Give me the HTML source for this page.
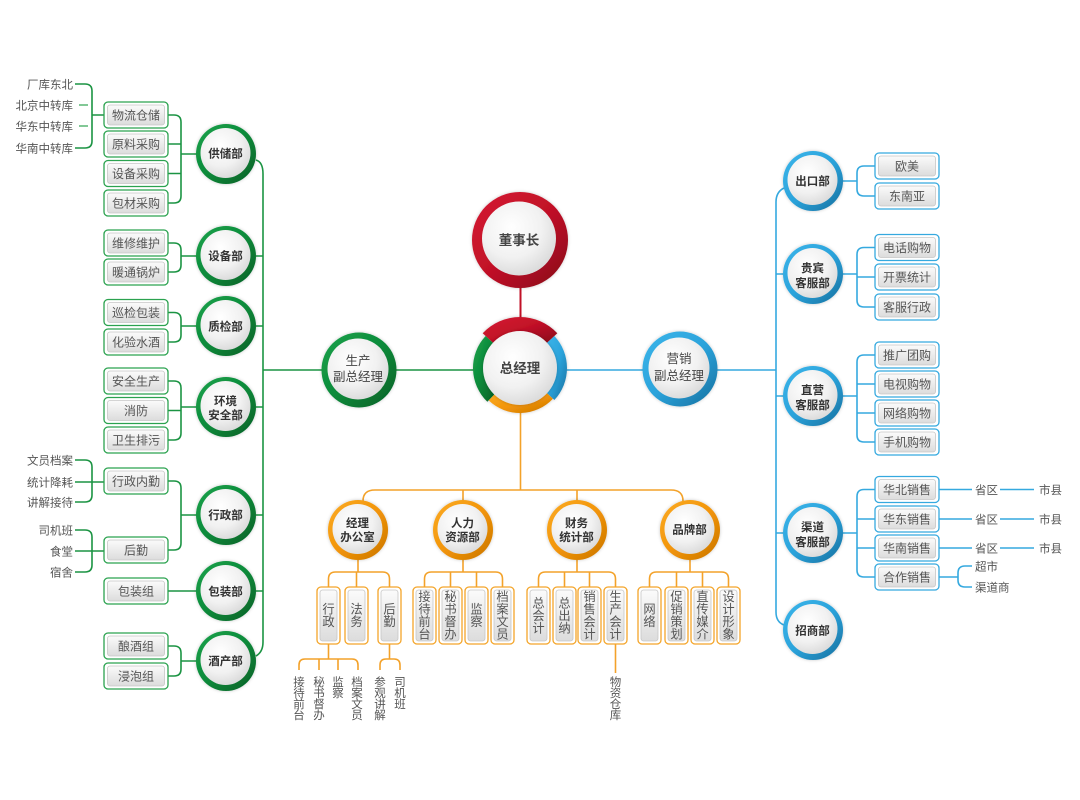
<!DOCTYPE html>
<html><head><meta charset="utf-8">
<style>
html,body{margin:0;padding:0;background:#fff;}
svg{display:block;}
text{font-family:"Liberation Sans","Noto Sans CJK SC",sans-serif;}
.bo{fill:#fff;stroke-width:1.3;}
.g .bo{stroke:#2ba24f;}
.b .bo{stroke:#35a9df;}
.o .bo{stroke:#f4a52a;}
.bi{fill:url(#bg);stroke:#c6c6c6;stroke-width:.8;}
.bt{font-size:12px;fill:#555;text-anchor:middle;}
.lb{font-size:11.5px;fill:#555;}
.dc{font-size:11.5px;font-weight:bold;fill:#333;text-anchor:middle;}
.mc{font-size:12.5px;fill:#444;text-anchor:middle;}
.bc{font-size:13.5px;font-weight:bold;fill:#444;text-anchor:middle;}
.vt{font-size:12.3px;fill:#555;text-anchor:middle;}
.ft{font-size:11.5px;fill:#555;text-anchor:middle;}
.lg{fill:none;stroke:#1b9443;stroke-width:1.6;}
.lbl{fill:none;stroke:#35a9df;stroke-width:1.6;}
.lo{fill:none;stroke:#f3a22a;stroke-width:1.6;}
</style></head>
<body>
<svg width="1080" height="800" viewBox="0 0 1080 800" xmlns="http://www.w3.org/2000/svg">
<defs>
<linearGradient id="bg" x1="0" y1="0" x2="0" y2="1"><stop offset="0" stop-color="#fbfbfb"/><stop offset="1" stop-color="#dcdcdc"/></linearGradient>
<radialGradient id="wg" cx=".4" cy=".35" r=".75"><stop offset="0" stop-color="#ffffff"/><stop offset=".55" stop-color="#f1f1f1"/><stop offset="1" stop-color="#d4d4d4"/></radialGradient>
<linearGradient id="gG" x1="0" y1="0" x2="1" y2="1"><stop offset="0" stop-color="#1aa34c"/><stop offset=".5" stop-color="#0c8a3a"/><stop offset="1" stop-color="#045f26"/></linearGradient>
<linearGradient id="gB" x1="0" y1="0" x2="1" y2="1"><stop offset="0" stop-color="#3cb5ea"/><stop offset=".5" stop-color="#2ba3db"/><stop offset="1" stop-color="#176f9e"/></linearGradient>
<linearGradient id="gO" x1="0" y1="0" x2="1" y2="1"><stop offset="0" stop-color="#fbab25"/><stop offset=".5" stop-color="#f29509"/><stop offset="1" stop-color="#c97400"/></linearGradient>
<linearGradient id="gR" x1="0" y1="0" x2="1" y2="1"><stop offset="0" stop-color="#d51a33"/><stop offset=".5" stop-color="#c11127"/><stop offset="1" stop-color="#86091a"/></linearGradient>
<filter id="sh" x="-30%" y="-30%" width="160%" height="160%"><feDropShadow dx="0" dy="0" stdDeviation="1.6" flood-color="#000" flood-opacity=".22"/></filter>
</defs>

<!-- ============ CONNECTORS ============ -->
<line x1="520.5" y1="286" x2="520.5" y2="320" stroke="#c11127" stroke-width="2"/>
<path class="lg" d="M256,160 Q263,162 263,174 L263,642 Q263,652 256,656"/>
<path class="lg" d="M256,256 H263 M256,326 H263 M256,407 H263 M256,515 H263 M256,591 H263 M263,370 H323 M396,370 H475"/>
<path class="lg" d="M168,115 L174,115 Q181,115 181,122 L181,196 Q181,203 174,203 L168,203 M168,144 H181 M168,173.5 H181 M181,154 H197"/>
<path class="lg" d="M168,243 L174,243 Q181,243 181,250 L181,265 Q181,272 174,272 L168,272 M181,256 H197"/>
<path class="lg" d="M168,312.5 L174,312.5 Q181,312.5 181,319.5 L181,335 Q181,342 174,342 L168,342 M181,326 H197"/>
<path class="lg" d="M168,381 L174,381 Q181,381 181,388 L181,433 Q181,440 174,440 L168,440 M168,410.5 H181 M181,407 H197"/>
<path class="lg" d="M168,481 L174,481 Q181,481 181,488 L181,543 Q181,550 174,550 L168,550 M181,515 H197"/>
<path class="lg" d="M168,591 H197"/>
<path class="lg" d="M168,646 L174,646 Q181,646 181,653 L181,669 Q181,676 174,676 L168,676 M181,661 H197"/>
<path class="lg" d="M75,84 L85,84 Q92,84 92,91 L92,141 Q92,148 85,148 L75,148 M92,115 H104"/>
<path class="lg" d="M79,105 H88 M79,126 H88" style="stroke:#58b673"/>
<path class="lg" d="M75,460 L85,460 Q92,460 92,467 L92,495 Q92,502 85,502 L75,502 M75,482 H104"/>
<path class="lg" d="M75,530 L85,530 Q92,530 92,537 L92,565 Q92,572 85,572 L75,572 M75,551 H104"/>

<path class="lbl" d="M784,188 Q776,192 776,202 L776,612 Q776,622 784,625"/>
<path class="lbl" d="M776,274 H785 M776,396 H785 M776,533 H785 M717,370 H776 M566,370 H644"/>
<path class="lbl" d="M875,166 L864,166 Q857,166 857,173 L857,189 Q857,196 864,196 L875,196 M842,181 H857"/>
<path class="lbl" d="M875,247.5 L864,247.5 Q857,247.5 857,254.5 L857,300 Q857,307 864,307 L875,307 M857,277 H875 M842,274 H857"/>
<path class="lbl" d="M875,355 L864,355 Q857,355 857,362 L857,435 Q857,442 864,442 L875,442 M857,384 H875 M857,413 H875 M842,396 H857"/>
<path class="lbl" d="M875,489.5 L864,489.5 Q857,489.5 857,496.5 L857,570 Q857,577 864,577 L875,577 M857,519 H875 M857,548 H875 M842,533 H857"/>
<path class="lbl" d="M939,489.5 H972 M1000,489.5 H1034 M939,519 H972 M1000,519 H1034 M939,548 H972 M1000,548 H1034"/>
<path class="lbl" d="M939,577 L958,577 M972,566 L965,566 Q958,566 958,573 L958,580 Q958,587 965,587 L972,587"/>

<path class="lo" d="M520.5,412 V490 M363,501 Q363,490 375,490 L671,490 Q683,490 683,501 M463,490 V501 M577,490 V501"/>
<path class="lo" d="M358,560 V572 M328.5,587 L328.5,579 Q328.5,572 335.5,572 L382.5,572 Q389.5,572 389.5,579 L389.5,587 M356.5,572 V587"/>
<path class="lo" d="M463,560 V572 M424.5,587 L424.5,579 Q424.5,572 431.5,572 L495.5,572 Q502.5,572 502.5,579 L502.5,587 M450.5,572 V587 M476.5,572 V587"/>
<path class="lo" d="M577,560 V572 M538.5,587 L538.5,579 Q538.5,572 545.5,572 L608.5,572 Q615.5,572 615.5,579 L615.5,587 M564.5,572 V587 M589.5,572 V587"/>
<path class="lo" d="M690,560 V572 M649.5,587 L649.5,579 Q649.5,572 656.5,572 L721.5,572 Q728.5,572 728.5,579 L728.5,587 M676.5,572 V587 M702.5,572 V587"/>
<path class="lo" d="M328.5,644 V659 M299,670 L299,665 Q299,659 305,659 L352,659 Q358,659 358,665 L358,670 M319,659 V670 M338,659 V670"/>
<path class="lo" d="M389.5,644 V659 M380,670 L380,665 Q380,659 386,659 L394,659 Q400,659 400,665 L400,670"/>
<path class="lo" d="M615.5,644 V673"/>

<!-- ============ BIG CIRCLES ============ -->
<circle cx="520" cy="240" r="48" fill="url(#gR)" filter="url(#sh)"/>
<circle cx="519" cy="238.5" r="37" fill="url(#wg)"/>
<text class="bc" x="519" y="245">董事长</text>

<g filter="url(#sh)">
<path fill="url(#gR)" d="M557.3,333.22 A51,51 0 0 0 482.7,333.22 L493.67,343.45 A36,36 0 0 1 546.33,343.45 Z"/>
<path fill="url(#gG)" d="M485.62,335.95 A47,47 0 0 0 487.35,401.81 L494.99,393.89 A36,36 0 0 1 493.67,343.45 Z"/>
<path fill="url(#gO)" d="M488.7,400.4 A45,45 0 0 0 552.9,398.7 L546.33,392.55 A36,36 0 0 1 494.99,393.89 Z"/>
<path fill="url(#gB)" d="M554.37,400.05 A47,47 0 0 0 554.37,335.95 L546.33,343.45 A36,36 0 0 1 546.33,392.55 Z"/>
</g>
<circle cx="520" cy="368" r="37" fill="url(#wg)" filter="url(#sh)"/>
<text class="bc" x="520" y="373">总经理</text>

<circle cx="359" cy="370" r="37.5" fill="url(#gG)" filter="url(#sh)"/>
<circle cx="358" cy="369" r="30.5" fill="url(#wg)"/>
<text class="mc" x="358" y="365">生产</text>
<text class="mc" x="358" y="381">副总经理</text>

<circle cx="680" cy="369" r="37.5" fill="url(#gB)" filter="url(#sh)"/>
<circle cx="679" cy="368" r="30.5" fill="url(#wg)"/>
<text class="mc" x="679" y="363">营销</text>
<text class="mc" x="679" y="380">副总经理</text>

<!-- ============ GREEN DEPT CIRCLES ============ -->
<g>
<circle cx="226" cy="154" r="30" fill="url(#gG)" filter="url(#sh)"/><circle cx="225.5" cy="153" r="25" fill="url(#wg)"/>
<text class="dc" x="225.5" y="157.5">供储部</text>
<circle cx="226" cy="256" r="30" fill="url(#gG)" filter="url(#sh)"/><circle cx="225.5" cy="255" r="25" fill="url(#wg)"/>
<text class="dc" x="225.5" y="260">设备部</text>
<circle cx="226" cy="326" r="30" fill="url(#gG)" filter="url(#sh)"/><circle cx="225.5" cy="325" r="25" fill="url(#wg)"/>
<text class="dc" x="225.5" y="330.5">质检部</text>
<circle cx="226" cy="407" r="30" fill="url(#gG)" filter="url(#sh)"/><circle cx="225.5" cy="406" r="25" fill="url(#wg)"/>
<text class="dc" x="225.5" y="405">环境</text><text class="dc" x="225.5" y="419">安全部</text>
<circle cx="226" cy="515" r="30" fill="url(#gG)" filter="url(#sh)"/><circle cx="225.5" cy="514" r="25" fill="url(#wg)"/>
<text class="dc" x="225.5" y="519">行政部</text>
<circle cx="226" cy="591" r="30" fill="url(#gG)" filter="url(#sh)"/><circle cx="225.5" cy="590" r="25" fill="url(#wg)"/>
<text class="dc" x="225.5" y="595.5">包装部</text>
<circle cx="226" cy="661" r="30" fill="url(#gG)" filter="url(#sh)"/><circle cx="225.5" cy="660" r="25" fill="url(#wg)"/>
<text class="dc" x="225.5" y="665">酒产部</text>
</g>

<!-- ============ BLUE DEPT CIRCLES ============ -->
<g>
<circle cx="813" cy="181" r="30" fill="url(#gB)" filter="url(#sh)"/><circle cx="812.5" cy="180" r="25" fill="url(#wg)"/>
<text class="dc" x="812.5" y="185">出口部</text>
<circle cx="813" cy="274" r="30" fill="url(#gB)" filter="url(#sh)"/><circle cx="812.5" cy="273" r="25" fill="url(#wg)"/>
<text class="dc" x="812.5" y="272">贵宾</text><text class="dc" x="812.5" y="287">客服部</text>
<circle cx="813" cy="396" r="30" fill="url(#gB)" filter="url(#sh)"/><circle cx="812.5" cy="395" r="25" fill="url(#wg)"/>
<text class="dc" x="812.5" y="394">直营</text><text class="dc" x="812.5" y="409">客服部</text>
<circle cx="813" cy="533" r="30" fill="url(#gB)" filter="url(#sh)"/><circle cx="812.5" cy="532" r="25" fill="url(#wg)"/>
<text class="dc" x="812.5" y="531">渠道</text><text class="dc" x="812.5" y="546">客服部</text>
<circle cx="813" cy="630" r="30" fill="url(#gB)" filter="url(#sh)"/><circle cx="812.5" cy="629" r="25" fill="url(#wg)"/>
<text class="dc" x="812.5" y="634.5">招商部</text>
</g>

<!-- ============ ORANGE DEPT CIRCLES ============ -->
<g>
<circle cx="358" cy="530" r="30" fill="url(#gO)" filter="url(#sh)"/><circle cx="357.5" cy="529" r="25" fill="url(#wg)"/>
<text class="dc" x="357.5" y="527">经理</text><text class="dc" x="357.5" y="541">办公室</text>
<circle cx="463" cy="530" r="30" fill="url(#gO)" filter="url(#sh)"/><circle cx="462.5" cy="529" r="25" fill="url(#wg)"/>
<text class="dc" x="462.5" y="527">人力</text><text class="dc" x="462.5" y="541">资源部</text>
<circle cx="577" cy="530" r="30" fill="url(#gO)" filter="url(#sh)"/><circle cx="576.5" cy="529" r="25" fill="url(#wg)"/>
<text class="dc" x="576.5" y="527">财务</text><text class="dc" x="576.5" y="541">统计部</text>
<circle cx="690" cy="530" r="30" fill="url(#gO)" filter="url(#sh)"/><circle cx="689.5" cy="529" r="25" fill="url(#wg)"/>
<text class="dc" x="689.5" y="533.5">品牌部</text>
</g>

<!-- ============ GREEN BOXES ============ -->
<g class="g">
<rect class="bo" x="104" y="102" width="64" height="26" rx="4"/><rect class="bi" x="107.5" y="105" width="57" height="20" rx="2.5"/><text class="bt" x="136" y="119.5">物流仓储</text>
<rect class="bo" x="104" y="131" width="64" height="26" rx="4"/><rect class="bi" x="107.5" y="134" width="57" height="20" rx="2.5"/><text class="bt" x="136" y="148.5">原料采购</text>
<rect class="bo" x="104" y="160.5" width="64" height="26" rx="4"/><rect class="bi" x="107.5" y="163.5" width="57" height="20" rx="2.5"/><text class="bt" x="136" y="178">设备采购</text>
<rect class="bo" x="104" y="190" width="64" height="26" rx="4"/><rect class="bi" x="107.5" y="193" width="57" height="20" rx="2.5"/><text class="bt" x="136" y="207.5">包材采购</text>

<rect class="bo" x="104" y="230" width="64" height="26" rx="4"/><rect class="bi" x="107.5" y="233" width="57" height="20" rx="2.5"/><text class="bt" x="136" y="247.5">维修维护</text>
<rect class="bo" x="104" y="259" width="64" height="26" rx="4"/><rect class="bi" x="107.5" y="262" width="57" height="20" rx="2.5"/><text class="bt" x="136" y="276.5">暖通锅炉</text>

<rect class="bo" x="104" y="299.5" width="64" height="26" rx="4"/><rect class="bi" x="107.5" y="302.5" width="57" height="20" rx="2.5"/><text class="bt" x="136" y="317">巡检包装</text>
<rect class="bo" x="104" y="329" width="64" height="26" rx="4"/><rect class="bi" x="107.5" y="332" width="57" height="20" rx="2.5"/><text class="bt" x="136" y="346.5">化验水酒</text>

<rect class="bo" x="104" y="368" width="64" height="26" rx="4"/><rect class="bi" x="107.5" y="371" width="57" height="20" rx="2.5"/><text class="bt" x="136" y="385.5">安全生产</text>
<rect class="bo" x="104" y="397.5" width="64" height="26" rx="4"/><rect class="bi" x="107.5" y="400.5" width="57" height="20" rx="2.5"/><text class="bt" x="136" y="415">消防</text>
<rect class="bo" x="104" y="427" width="64" height="26" rx="4"/><rect class="bi" x="107.5" y="430" width="57" height="20" rx="2.5"/><text class="bt" x="136" y="444.5">卫生排污</text>

<rect class="bo" x="104" y="468" width="64" height="26" rx="4"/><rect class="bi" x="107.5" y="471" width="57" height="20" rx="2.5"/><text class="bt" x="136" y="485.5">行政内勤</text>
<rect class="bo" x="104" y="537" width="64" height="26" rx="4"/><rect class="bi" x="107.5" y="540" width="57" height="20" rx="2.5"/><text class="bt" x="136" y="554.5">后勤</text>

<rect class="bo" x="104" y="578" width="64" height="26" rx="4"/><rect class="bi" x="107.5" y="581" width="57" height="20" rx="2.5"/><text class="bt" x="136" y="595.5">包装组</text>

<rect class="bo" x="104" y="633" width="64" height="26" rx="4"/><rect class="bi" x="107.5" y="636" width="57" height="20" rx="2.5"/><text class="bt" x="136" y="650.5">酿酒组</text>
<rect class="bo" x="104" y="663" width="64" height="26" rx="4"/><rect class="bi" x="107.5" y="666" width="57" height="20" rx="2.5"/><text class="bt" x="136" y="680.5">浸泡组</text>
</g>

<g class="lb" text-anchor="end">
<text x="73" y="88.5">厂库东北</text>
<text x="73" y="109.5">北京中转库</text>
<text x="73" y="130.5">华东中转库</text>
<text x="73" y="152.5">华南中转库</text>
<text x="73" y="464.5">文员档案</text>
<text x="73" y="486.5">统计降耗</text>
<text x="73" y="506.5">讲解接待</text>
<text x="73" y="534.5">司机班</text>
<text x="73" y="555.5">食堂</text>
<text x="73" y="576.5">宿舍</text>
</g>

<!-- ============ BLUE BOXES ============ -->
<g class="b">
<rect class="bo" x="875" y="153" width="64" height="26" rx="4"/><rect class="bi" x="878.5" y="156" width="57" height="20" rx="2.5"/><text class="bt" x="907" y="170.5">欧美</text>
<rect class="bo" x="875" y="183" width="64" height="26" rx="4"/><rect class="bi" x="878.5" y="186" width="57" height="20" rx="2.5"/><text class="bt" x="907" y="200.5">东南亚</text>

<rect class="bo" x="875" y="234.5" width="64" height="26" rx="4"/><rect class="bi" x="878.5" y="237.5" width="57" height="20" rx="2.5"/><text class="bt" x="907" y="252">电话购物</text>
<rect class="bo" x="875" y="264" width="64" height="26" rx="4"/><rect class="bi" x="878.5" y="267" width="57" height="20" rx="2.5"/><text class="bt" x="907" y="281.5">开票统计</text>
<rect class="bo" x="875" y="294" width="64" height="26" rx="4"/><rect class="bi" x="878.5" y="297" width="57" height="20" rx="2.5"/><text class="bt" x="907" y="311.5">客服行政</text>

<rect class="bo" x="875" y="342" width="64" height="26" rx="4"/><rect class="bi" x="878.5" y="345" width="57" height="20" rx="2.5"/><text class="bt" x="907" y="359.5">推广团购</text>
<rect class="bo" x="875" y="371" width="64" height="26" rx="4"/><rect class="bi" x="878.5" y="374" width="57" height="20" rx="2.5"/><text class="bt" x="907" y="388.5">电视购物</text>
<rect class="bo" x="875" y="400" width="64" height="26" rx="4"/><rect class="bi" x="878.5" y="403" width="57" height="20" rx="2.5"/><text class="bt" x="907" y="417.5">网络购物</text>
<rect class="bo" x="875" y="429" width="64" height="26" rx="4"/><rect class="bi" x="878.5" y="432" width="57" height="20" rx="2.5"/><text class="bt" x="907" y="446.5">手机购物</text>

<rect class="bo" x="875" y="476.5" width="64" height="26" rx="4"/><rect class="bi" x="878.5" y="479.5" width="57" height="20" rx="2.5"/><text class="bt" x="907" y="494">华北销售</text>
<rect class="bo" x="875" y="506" width="64" height="26" rx="4"/><rect class="bi" x="878.5" y="509" width="57" height="20" rx="2.5"/><text class="bt" x="907" y="523.5">华东销售</text>
<rect class="bo" x="875" y="535" width="64" height="26" rx="4"/><rect class="bi" x="878.5" y="538" width="57" height="20" rx="2.5"/><text class="bt" x="907" y="552.5">华南销售</text>
<rect class="bo" x="875" y="564" width="64" height="26" rx="4"/><rect class="bi" x="878.5" y="567" width="57" height="20" rx="2.5"/><text class="bt" x="907" y="581.5">合作销售</text>
</g>

<g class="lb">
<text x="975" y="494">省区</text><text x="1039" y="494">市县</text>
<text x="975" y="523.5">省区</text><text x="1039" y="523.5">市县</text>
<text x="975" y="552.5">省区</text><text x="1039" y="552.5">市县</text>
<text x="975" y="570.5">超市</text>
<text x="975" y="591.5">渠道商</text>
</g>

<!-- ============ ORANGE BOXES (vertical) ============ -->
<g class="o">
<rect class="bo" x="317" y="587" width="23" height="57" rx="4"/><rect class="bi" x="320" y="590" width="17" height="51" rx="2.5"/>
<rect class="bo" x="345" y="587" width="23" height="57" rx="4"/><rect class="bi" x="348" y="590" width="17" height="51" rx="2.5"/>
<rect class="bo" x="378" y="587" width="23" height="57" rx="4"/><rect class="bi" x="381" y="590" width="17" height="51" rx="2.5"/>

<rect class="bo" x="413" y="587" width="23" height="57" rx="4"/><rect class="bi" x="416" y="590" width="17" height="51" rx="2.5"/>
<rect class="bo" x="439" y="587" width="23" height="57" rx="4"/><rect class="bi" x="442" y="590" width="17" height="51" rx="2.5"/>
<rect class="bo" x="465" y="587" width="23" height="57" rx="4"/><rect class="bi" x="468" y="590" width="17" height="51" rx="2.5"/>
<rect class="bo" x="491" y="587" width="23" height="57" rx="4"/><rect class="bi" x="494" y="590" width="17" height="51" rx="2.5"/>

<rect class="bo" x="527" y="587" width="23" height="57" rx="4"/><rect class="bi" x="530" y="590" width="17" height="51" rx="2.5"/>
<rect class="bo" x="553" y="587" width="23" height="57" rx="4"/><rect class="bi" x="556" y="590" width="17" height="51" rx="2.5"/>
<rect class="bo" x="578" y="587" width="23" height="57" rx="4"/><rect class="bi" x="581" y="590" width="17" height="51" rx="2.5"/>
<rect class="bo" x="604" y="587" width="23" height="57" rx="4"/><rect class="bi" x="607" y="590" width="17" height="51" rx="2.5"/>

<rect class="bo" x="638" y="587" width="23" height="57" rx="4"/><rect class="bi" x="641" y="590" width="17" height="51" rx="2.5"/>
<rect class="bo" x="665" y="587" width="23" height="57" rx="4"/><rect class="bi" x="668" y="590" width="17" height="51" rx="2.5"/>
<rect class="bo" x="691" y="587" width="23" height="57" rx="4"/><rect class="bi" x="694" y="590" width="17" height="51" rx="2.5"/>
<rect class="bo" x="717" y="587" width="23" height="57" rx="4"/><rect class="bi" x="720" y="590" width="17" height="51" rx="2.5"/>
</g>

<g class="vt">
<text x="328.5" y="613.6">行<tspan x="328.5" dy="12.6">政</tspan></text>
<text x="356.5" y="613.6">法<tspan x="356.5" dy="12.6">务</tspan></text>
<text x="389.5" y="613.6">后<tspan x="389.5" dy="12.6">勤</tspan></text>

<text x="424.5" y="601">接<tspan x="424.5" dy="12.5">待</tspan><tspan x="424.5" dy="12.5">前</tspan><tspan x="424.5" dy="12.5">台</tspan></text>
<text x="450.5" y="601">秘<tspan x="450.5" dy="12.5">书</tspan><tspan x="450.5" dy="12.5">督</tspan><tspan x="450.5" dy="12.5">办</tspan></text>
<text x="476.5" y="613.6">监<tspan x="476.5" dy="12.6">察</tspan></text>
<text x="502.5" y="601">档<tspan x="502.5" dy="12.5">案</tspan><tspan x="502.5" dy="12.5">文</tspan><tspan x="502.5" dy="12.5">员</tspan></text>

<text x="538.5" y="607.4">总<tspan x="538.5" dy="12.5">会</tspan><tspan x="538.5" dy="12.5">计</tspan></text>
<text x="564.5" y="607.4">总<tspan x="564.5" dy="12.5">出</tspan><tspan x="564.5" dy="12.5">纳</tspan></text>
<text x="589.5" y="601">销<tspan x="589.5" dy="12.5">售</tspan><tspan x="589.5" dy="12.5">会</tspan><tspan x="589.5" dy="12.5">计</tspan></text>
<text x="615.5" y="601">生<tspan x="615.5" dy="12.5">产</tspan><tspan x="615.5" dy="12.5">会</tspan><tspan x="615.5" dy="12.5">计</tspan></text>

<text x="649.5" y="613.6">网<tspan x="649.5" dy="12.6">络</tspan></text>
<text x="676.5" y="601">促<tspan x="676.5" dy="12.5">销</tspan><tspan x="676.5" dy="12.5">策</tspan><tspan x="676.5" dy="12.5">划</tspan></text>
<text x="702.5" y="601">直<tspan x="702.5" dy="12.5">传</tspan><tspan x="702.5" dy="12.5">媒</tspan><tspan x="702.5" dy="12.5">介</tspan></text>
<text x="728.5" y="601">设<tspan x="728.5" dy="12.5">计</tspan><tspan x="728.5" dy="12.5">形</tspan><tspan x="728.5" dy="12.5">象</tspan></text>
</g>

<g class="ft">
<text x="299" y="686">接<tspan x="299" dy="11">待</tspan><tspan x="299" dy="11">前</tspan><tspan x="299" dy="11">台</tspan></text>
<text x="319" y="686">秘<tspan x="319" dy="11">书</tspan><tspan x="319" dy="11">督</tspan><tspan x="319" dy="11">办</tspan></text>
<text x="338" y="686">监<tspan x="338" dy="11">察</tspan></text>
<text x="357" y="686">档<tspan x="357" dy="11">案</tspan><tspan x="357" dy="11">文</tspan><tspan x="357" dy="11">员</tspan></text>
<text x="380" y="686">参<tspan x="380" dy="11">观</tspan><tspan x="380" dy="11">讲</tspan><tspan x="380" dy="11">解</tspan></text>
<text x="400" y="686">司<tspan x="400" dy="11">机</tspan><tspan x="400" dy="11">班</tspan></text>
<text x="615.5" y="686">物<tspan x="615.5" dy="11">资</tspan><tspan x="615.5" dy="11">仓</tspan><tspan x="615.5" dy="11">库</tspan></text>
</g>
</svg>
</body></html>
